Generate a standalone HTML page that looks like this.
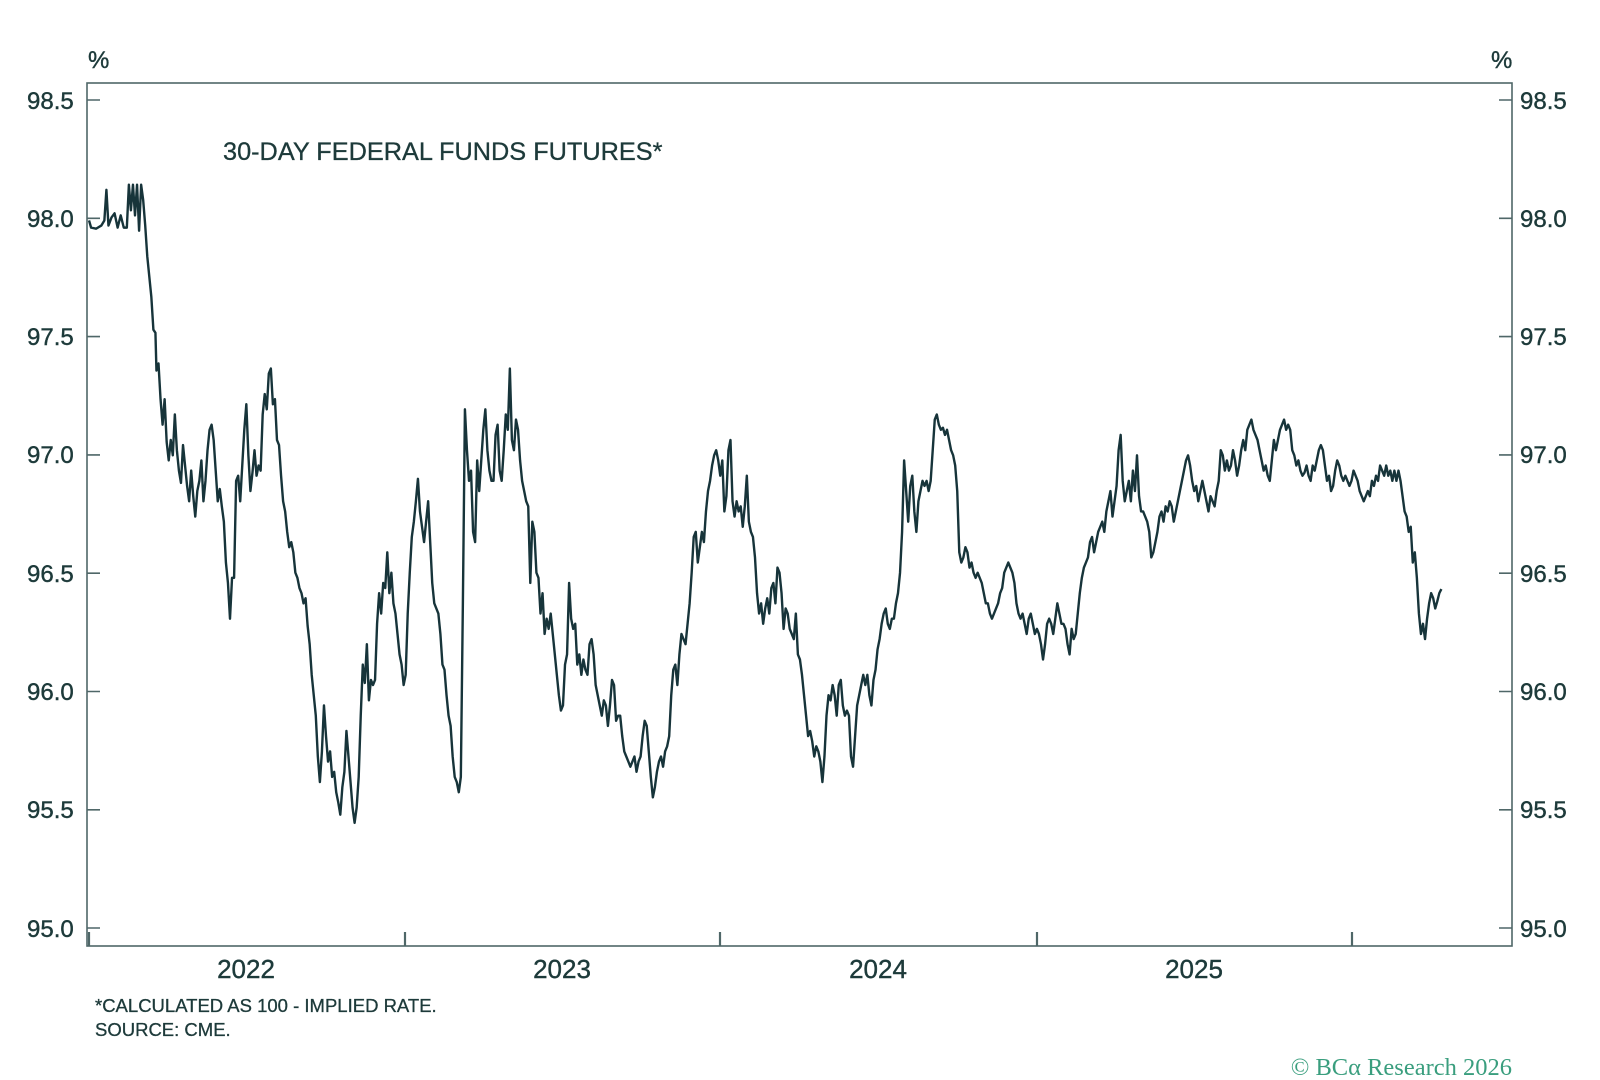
<!DOCTYPE html>
<html><head><meta charset="utf-8"><style>
html,body{margin:0;padding:0;background:#fff;}
svg{display:block;font-family:"Liberation Sans",sans-serif;}
</style></head><body>
<svg width="1600" height="1080" viewBox="0 0 1600 1080" xmlns="http://www.w3.org/2000/svg">
<rect width="1600" height="1080" fill="#fff"/>
<g stroke="#4f6768" stroke-width="1.6" fill="none">
<rect x="87" y="83" width="1425" height="863"/>
<path d="M87 100h13M87 218.3h13M87 336.6h13M87 454.9h13M87 573.2h13M87 691.5h13M87 809.8h13M87 928h13"/>
<path d="M1512 100h-13M1512 218.3h-13M1512 336.6h-13M1512 454.9h-13M1512 573.2h-13M1512 691.5h-13M1512 809.8h-13M1512 928h-13"/>
<path d="M89 946v-14M405 946v-14M720 946v-14M1037 946v-14M1352 946v-14" stroke-width="2.2"/>
</g>
<g fill="#1d3a3a" font-size="24" stroke="#1d3a3a" stroke-width="0.4">
<text x="27" y="109">98.5</text><text x="27" y="227">98.0</text><text x="27" y="345">97.5</text><text x="27" y="463">97.0</text><text x="27" y="582">96.5</text><text x="27" y="700">96.0</text><text x="27" y="818">95.5</text><text x="27" y="937">95.0</text>
<text x="1520" y="109">98.5</text><text x="1520" y="227">98.0</text><text x="1520" y="345">97.5</text><text x="1520" y="463">97.0</text><text x="1520" y="582">96.5</text><text x="1520" y="700">96.0</text><text x="1520" y="818">95.5</text><text x="1520" y="937">95.0</text>
<text x="88" y="68">%</text><text x="1491" y="68">%</text>
</g>
<g fill="#1d3a3a" font-size="26" text-anchor="middle" stroke="#1d3a3a" stroke-width="0.4">
<text x="246" y="978">2022</text><text x="562" y="978">2023</text><text x="878" y="978">2024</text><text x="1194" y="978">2025</text>
</g>
<text x="223" y="160" fill="#1d3a3a" font-size="25.3" stroke="#1d3a3a" stroke-width="0.3">30-DAY FEDERAL FUNDS FUTURES*</text>
<text x="95" y="1012" fill="#1d3a3a" font-size="18.5" stroke="#1d3a3a" stroke-width="0.3">*CALCULATED AS 100 - IMPLIED RATE.</text>
<text x="95" y="1036" fill="#1d3a3a" font-size="18.5" stroke="#1d3a3a" stroke-width="0.3">SOURCE: CME.</text>
<text x="1512" y="1075" fill="#3a9e7e" font-size="24.5" text-anchor="end" font-family="Liberation Serif, serif">© BCα Research 2026</text>
<g transform="translate(87,100) scale(1.0214,1.021) translate(-86,-97)">
<polyline fill="none" stroke="#17343a" stroke-width="2.4" vector-effect="non-scaling-stroke" stroke-linejoin="round" points="88,215 90,222 95,223 100,220 103,215 105,185 107,220 110,212 113,208 116,222 119,210 122,222 125,222 127,180 129,205 131,180 133,210 135,180 137,225 139,180 141,195 143,220 145,250 147,270 149,290 151,322 153,325 154,362 156,355 158,390 160,415 162,390 164,432 166,450 168,430 170,445 172,405 174,440 176,460 178,472 180,435 182,455 184,475 186,490 188,460 190,485 192,505 194,480 196,470 198,450 200,490 202,470 204,440 206,420 208,415 210,430 212,460 214,490 216,478 218,495 220,510 222,550 224,570 226,605 228,565 230,565 232,470 234,465 236,490 238,455 240,420 242,395 244,445 246,480 248,462 250,440 252,465 254,455 256,460 258,405 260,385 262,400 264,365 266,360 268,395 270,390 272,430 274,435 276,465 278,490 280,500 282,520 284,535 286,530 288,540 290,560 292,565 294,575 296,580 298,590 300,585 302,612 304,630 306,660 308,680 310,700 312,740 314,765 316,735 318,690 320,720 322,745 324,735 326,760 328,755 330,775 332,785 334,797 336,770 338,755 340,715 342,740 344,765 346,790 348,805 350,790 352,760 354,700 356,650 358,668 360,630 362,685 364,665 366,670 368,665 370,610 372,580 374,600 376,570 378,575 380,540 382,580 384,560 386,590 388,600 390,620 392,640 394,650 396,670 398,660 400,600 402,560 404,525 406,510 408,490 410,468 412,500 414,515 416,530 418,510 420,490 422,530 424,570 426,590 428,595 430,600 432,620 434,650 436,655 438,680 440,700 442,710 444,740 446,760 448,765 450,775 452,760 454,590 456,400 458,440 460,470 462,460 464,520 466,530 468,450 470,480 472,450 474,420 476,400 478,440 480,460 482,470 484,470 486,425 488,415 490,460 492,470 494,440 496,405 498,420 500,360 502,430 504,440 506,410 508,420 510,450 512,470 514,480 516,490 518,495 520,570 522,510 524,520 526,560 528,565 530,600 532,580 534,620 536,605 538,615 540,600 542,620 544,640 546,660 548,680 550,695 552,690 554,650 556,640 558,570 560,605 562,615 564,610 566,650 568,640 570,660 572,645 574,655 576,660 578,630 580,625 582,640 584,670 586,680 588,690 590,700 592,685 594,690 596,710 598,690 600,665 602,670 604,705 606,700 608,700 610,720 612,735 614,740 616,745 618,750 620,745 622,740 624,755 626,745 628,740 630,720 632,705 634,710 636,735 638,760 640,780 642,770 644,755 646,745 648,740 650,750 652,735 654,730 656,720 658,680 660,655 662,650 664,670 666,640 668,620 670,625 672,630 674,610 676,590 678,560 680,525 682,520 684,550 686,535 688,520 690,530 692,500 694,480 696,470 698,455 700,445 702,440 704,450 706,465 708,450 710,500 712,485 714,440 716,430 718,490 720,505 722,490 724,500 726,495 728,515 730,495 732,465 734,510 736,520 738,525 740,545 742,580 744,600 746,590 748,610 750,595 752,585 754,600 756,575 758,570 760,590 762,555 764,560 766,580 768,615 770,595 772,600 774,615 776,620 778,625 780,600 782,640 784,645 786,660 788,680 790,700 792,720 794,715 796,725 798,740 800,730 802,735 804,745 806,765 808,740 810,700 812,680 814,685 816,670 818,680 820,700 822,670 824,665 826,690 828,700 830,695 832,700 834,740 836,750 838,720 840,690 842,680 844,670 846,660 848,670 850,660 852,680 854,690 856,665 858,655 860,635 862,625 864,610 866,600 868,595 870,610 872,615 874,605 876,605 878,590 880,580 882,560 884,520 886,450 888,480 890,510 892,475 894,465 896,500 898,520 900,490 902,480 904,470 906,475 908,470 910,480 912,470 914,440 916,410 918,405 920,415 922,420 924,418 926,425 928,420 930,430 932,440 934,445 936,455 938,480 940,540 942,550 944,545 946,535 948,540 950,555 952,550 954,560 956,565 958,560 960,565 962,570 964,580 966,590 968,590 970,600 972,605 974,600 976,595 978,590 980,580 982,575 984,560 986,555 988,550 990,555 992,560 994,570 996,590 998,600 1000,605 1002,600 1004,610 1006,620 1008,605 1010,600 1012,610 1014,620 1016,615 1018,620 1020,630 1022,645 1024,630 1026,610 1028,605 1030,610 1032,620 1034,605 1036,590 1038,600 1040,610 1042,610 1044,615 1046,630 1048,640 1050,615 1052,625 1054,620 1056,600 1058,580 1060,565 1062,555 1064,550 1066,545 1068,530 1070,525 1072,540 1074,530 1076,520 1078,515 1080,510 1082,520 1084,500 1086,490 1088,480 1090,505 1092,490 1094,475 1096,440 1098,425 1100,470 1102,490 1104,480 1106,470 1108,490 1110,460 1112,480 1114,445 1116,485 1118,500 1120,500 1122,505 1124,510 1126,520 1128,545 1130,540 1132,530 1134,520 1136,505 1138,500 1140,510 1142,495 1144,500 1146,490 1148,495 1150,510 1152,500 1154,490 1156,480 1158,470 1160,460 1162,450 1164,445 1166,455 1168,470 1170,480 1172,475 1174,490 1176,480 1178,470 1180,480 1182,490 1184,500 1186,485 1188,490 1190,495 1192,480 1194,470 1196,440 1198,445 1200,460 1202,450 1204,460 1206,455 1208,440 1210,450 1212,465 1214,455 1216,440 1218,430 1220,440 1222,420 1224,415 1226,410 1228,420 1230,425 1232,430 1234,440 1236,450 1238,460 1240,455 1242,465 1244,470 1246,450 1248,430 1250,440 1252,430 1254,420 1256,415 1258,410 1260,420 1262,415 1264,420 1266,440 1268,445 1270,455 1272,450 1274,460 1276,465 1278,462 1280,455 1282,465 1284,470 1286,455 1288,460 1290,450 1292,440 1294,435 1296,440 1298,455 1300,470 1302,465 1304,480 1306,475 1308,460 1310,450 1312,455 1314,465 1316,470 1318,465 1320,470 1322,475 1324,470 1326,460 1328,465 1330,470 1332,480 1334,485 1336,490 1338,485 1340,480 1342,485 1344,470 1346,475 1348,465 1350,470 1352,455 1354,460 1356,465 1358,455 1360,465 1362,460 1364,470 1366,460 1368,470 1370,460 1372,470 1374,485 1376,500 1378,505 1380,520 1382,515 1384,550 1386,540 1388,565 1390,600 1392,620 1394,610 1396,625 1398,605 1400,590 1402,580 1404,585 1406,595 1408,588 1410,580 1412,576"/>
</g>
</svg>
</body></html>
